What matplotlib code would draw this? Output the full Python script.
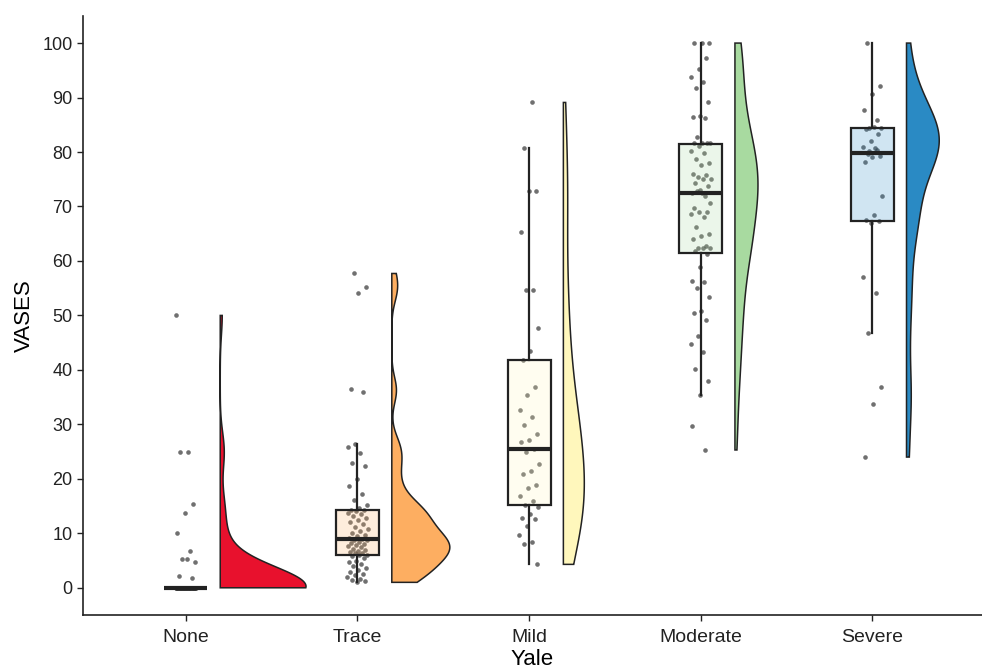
import matplotlib
matplotlib.use("Agg")
import matplotlib.pyplot as plt
from matplotlib.colors import to_rgba
import numpy as np

plt.rcParams['font.family'] = ['Liberation Sans', 'DejaVu Sans']

# Groups (Yale) and the VASES scores
groups = ["None", "Trace", "Mild", "Moderate", "Severe"]
colors = ["#E8112D", "#FDAE61", "#FFF7BC", "#A8DAA0", "#2A8AC4"]

vases_none = [50, 25, 25, 15.4, 13.8, 10, 6.7, 5.3, 4.8, 5.3, 2.2, 1.8] + [0] * 40
vases_trace = [57.7, 55.2, 54.2, 36.5, 36.0, 26.4, 25.8, 24.8, 23.0, 22.3,
               20.0, 18.6, 17.2, 16.1, 15.2, 14.7,
               14.3, 14.2, 14.1, 13.8, 13.6, 13.1, 12.8, 12.5, 12.0, 11.7,
               11.1, 10.8, 10.4, 10.0, 9.7, 9.5, 9.1,
               8.9, 8.8, 8.7, 8.4, 8.3, 8.0, 7.9, 7.6, 7.5, 7.2, 7.0, 6.8,
               6.6, 6.4, 6.3, 6.1, 6.0,
               5.8, 5.5, 5.0, 4.7, 4.3, 4.0, 3.6, 3.2, 2.9, 2.6, 2.3, 2.0,
               1.7, 1.4, 1.2, 1.0]
vases_mild = [89.1, 80.8, 72.8, 72.8, 65.3, 54.7, 54.7, 47.7, 43.4, 41.8,
              36.9, 35.4, 32.6, 31.3, 29.9, 28.2, 27.2, 26.7, 25.5, 25.0,
              22.7, 21.4, 20.9, 18.8, 18.3, 16.9, 15.9, 15.2, 14.8, 13.5,
              12.8, 12.7, 11.3, 9.7, 8.4, 8.1, 4.3]
vases_moderate = [100, 100, 100, 97.2, 95.3, 93.8, 92.8, 91.7, 89.1, 86.6,
                  86.5, 86.2, 82.8, 81.7, 81.7, 81.7, 81.7, 81.1, 80.2, 79.8,
                  78.7, 77.9, 77.6, 76.0, 75.7, 75.4, 75.1, 75.1, 74.3, 73.8,
                  73.0, 72.5, 72.0, 72.8, 70.6, 72.5, 69.7, 68.9, 68.9, 68.6,
                  68.1, 66.3, 64.9, 64.6, 64.0, 62.8, 62.3, 62.3, 62.3, 61.8,
                  61.3, 58.9, 56.4, 56.1, 55.1, 53.3, 50.8, 50.5, 49.1, 46.3,
                  44.7, 43.2, 40.1, 37.9, 35.4, 29.7, 25.3]
vases_severe = [100, 92.1, 90.7, 87.7, 85.8, 84.4, 84.4, 84.6, 84.2, 83.3,
                82.0, 80.9, 80.8, 79.6, 79.3, 79.0, 78.2, 80.4, 80.2, 71.9,
                68.4, 67.5, 67.3, 67.0, 57.1, 54.1, 46.7, 36.8, 33.8, 24.0]

data = [vases_none, vases_trace, vases_mild, vases_moderate, vases_severe]


# Gaussian density like R's density() with bw.nrd0, trimmed to data range
def density(x, n=512):
    x = np.asarray(x, float)
    sd = x.std(ddof=1)
    iqr = np.subtract(*np.percentile(x, [75, 25]))
    lo = min(sd, iqr / 1.34)
    if lo == 0:
        lo = sd
    bw = 0.9 * lo * len(x) ** -0.2
    grid = np.linspace(x.min(), x.max(), n)
    d = np.exp(-0.5 * ((grid[:, None] - x[None, :]) / bw) ** 2).sum(1)
    d /= len(x) * bw * np.sqrt(2 * np.pi)
    return grid, d


fig = plt.figure(figsize=(9.82, 6.68), dpi=100)
ax = fig.add_axes([0.0845, 0.0793, 0.9155, 0.897])

pos = np.arange(1, len(groups) + 1)

# jittered points (deterministic spread)
for i, vals in enumerate(data):
    k = np.arange(len(vals))
    off = ((k * 0.6180339 + 0.31 * i) % 1 - 0.5) * 0.12
    ax.scatter(pos[i] + off, vals, s=11, color="#333333", alpha=0.7,
               linewidths=0, zorder=2)

# box plots
bp = ax.boxplot(data, positions=pos, widths=0.25, whis=1.5, showfliers=False,
                showcaps=False, patch_artist=True, manage_ticks=False,
                medianprops=dict(color="#222222", linewidth=3),
                whiskerprops=dict(color="#222222", linewidth=1.6),
                boxprops=dict(linewidth=1.6), zorder=3)
for patch, c in zip(bp["boxes"], colors):
    patch.set_facecolor(to_rgba(c, 0.22))
    patch.set_edgecolor("#222222")

# half violins, area-scaled, nudged right by 0.2
dens = [density(v) for v in data]
dmax = max(d.max() for _, d in dens)
for i, (grid, d) in enumerate(dens):
    base = pos[i] + 0.2
    w = d / dmax * 0.5
    xs = np.concatenate([[base], base + w, [base]])
    ys = np.concatenate([[grid[0]], grid, [grid[-1]]])
    ax.fill(xs, ys, facecolor=colors[i], edgecolor="#222222",
            linewidth=1.1, zorder=4)

ax.set_xlim(0.4, 5.64)
ax.set_ylim(-5, 105)
ax.set_xticks(pos)
ax.set_xticklabels(groups)
ax.set_yticks(np.arange(0, 101, 10))
ax.tick_params(axis="x", labelsize=14, length=4, width=1, color="#222222",
               labelcolor="#222222", pad=6)
ax.tick_params(axis="y", labelsize=13, length=4, width=1, color="#222222",
               labelcolor="#222222")
ax.set_xlabel("Yale", fontsize=16, labelpad=2)
ax.set_ylabel("VASES", fontsize=16, labelpad=5)
for s in ["top", "right"]:
    ax.spines[s].set_visible(False)
for s in ["left", "bottom"]:
    ax.spines[s].set_linewidth(1.2)
    ax.spines[s].set_color("#222222")

fig.savefig("out.png", dpi=100)
